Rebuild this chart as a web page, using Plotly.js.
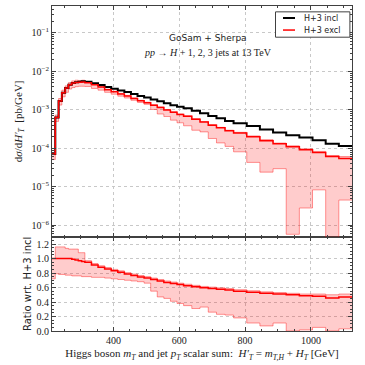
<!DOCTYPE html>
<html>
<head>
<meta charset="utf-8">
<script src="https://cdn.plot.ly/plotly-3.0.1.min.js"></script>
<style>
  html, body { margin: 0; padding: 0; background: #fff; }
  #plot { width: 365px; height: 365px; }
</style>
</head>
<body>
<div id="plot"></div>
<script>
// bin edges in H'_T [GeV]
let binEdges = [213, 223, 233, 243, 253, 263, 273, 283, 293, 303, 313,
                333, 353, 373, 393, 413, 433, 453, 473, 493, 513, 533, 553, 573, 593, 613,
                638, 663, 688, 713, 739, 765,
                805, 845, 885, 925, 965, 1005, 1045, 1085, 1125];

// dsigma/dH'_T [pb/GeV], H+3 inclusive
let incl = [7.1e-5, 6.3e-4, 1.7e-3, 2.8e-3, 3.7e-3, 4.5e-3, 5.0e-3, 5.25e-3, 5.4e-3, 5.5e-3,
            5.4e-3, 4.9e-3, 4.4e-3, 3.9e-3, 3.55e-3, 3.2e-3, 2.9e-3, 2.57e-3, 2.3e-3, 2.1e-3,
            1.86e-3, 1.66e-3, 1.48e-3, 1.32e-3, 1.2e-3,
            1.1e-3, 9.5e-4, 8.1e-4, 6.9e-4, 6.0e-4, 5.1e-4,
            4.5e-4, 3.8e-4, 3.1e-4, 2.57e-4, 2.2e-4, 1.9e-4, 1.62e-4, 1.32e-4, 1.15e-4];

// H+3 exclusive, central value and its band
let excl = [7.1e-5, 6.3e-4, 1.7e-3, 2.8e-3, 3.7e-3, 4.5e-3, 4.95e-3, 5.15e-3, 5.25e-3, 5.3e-3,
            5.1e-3, 4.5e-3, 3.9e-3, 3.35e-3, 2.95e-3, 2.6e-3, 2.3e-3, 1.98e-3, 1.72e-3, 1.53e-3,
            1.32e-3, 1.15e-3, 9.9e-4, 8.6e-4, 7.6e-4,
            6.8e-4, 5.7e-4, 4.8e-4, 4.0e-4, 3.4e-4, 2.86e-4,
            2.5e-4, 2.0e-4, 1.58e-4, 1.31e-4, 1.1e-4, 9.1e-5, 7.8e-5, 6.1e-5, 5.4e-5];
let exclLow = [5.1e-5, 5.0e-4, 1.33e-3, 2.18e-3, 2.85e-3, 3.47e-3, 3.8e-3, 4.0e-3, 4.1e-3, 4.1e-3,
               4.05e-3, 3.6e-3, 3.25e-3, 2.85e-3, 2.55e-3, 2.27e-3, 2.03e-3, 1.77e-3, 1.56e-3, 1.39e-3,
               1.02e-3, 7.8e-4, 6.7e-4, 5.4e-4, 4.6e-4,
               3.85e-4, 2.95e-4, 2.67e-4, 1.8e-4, 1.38e-4, 1.12e-4,
               8.1e-5, 4.3e-5, 2.4e-5, 2.95e-5, 5.8e-7, 2.8e-6, 8.3e-6, 1e-7, 4.5e-6];
let exclHigh = [7.1e-5, 7.3e-4, 1.97e-3, 3.25e-3, 4.2e-3, 5.1e-3, 5.65e-3, 5.9e-3, 5.8e-3, 5.9e-3,
                5.25e-3, 4.6e-3, 4.0e-3, 3.45e-3, 3.05e-3, 2.68e-3, 2.37e-3, 2.04e-3, 1.77e-3, 1.58e-3,
                1.36e-3, 1.19e-3, 1.02e-3, 8.9e-4, 7.8e-4,
                7.0e-4, 5.9e-4, 4.95e-4, 4.15e-4, 3.5e-4, 2.95e-4,
                2.6e-4, 2.1e-4, 1.68e-4, 1.37e-4, 1.16e-4, 9.7e-5, 8.3e-5, 6.5e-5, 6.1e-5];

// ratio panel: excl / incl
let ratio = [1.0, 1.0, 1.0, 1.0, 1.0, 1.0, 0.99, 0.98, 0.97, 0.96,
             0.95, 0.91, 0.88, 0.855, 0.83, 0.81, 0.785, 0.765, 0.745, 0.73,
             0.71, 0.69, 0.67, 0.655, 0.64,
             0.625, 0.61, 0.595, 0.585, 0.575, 0.565,
             0.55, 0.535, 0.52, 0.51, 0.50, 0.485, 0.48, 0.455, 0.47];
let ratioLow = [0.72, 0.79, 0.78, 0.78, 0.77, 0.77, 0.76, 0.76, 0.76, 0.75,
                0.75, 0.74, 0.74, 0.73, 0.72, 0.71, 0.70, 0.69, 0.68, 0.66,
                0.55, 0.47, 0.45, 0.41, 0.38,
                0.35, 0.31, 0.33, 0.26, 0.23, 0.22,
                0.18, 0.11, 0.07, 0.11, 0.0, 0.015, 0.05, 0.0, 0.03];
let ratioHigh = [1.0, 1.16, 1.16, 1.16, 1.14, 1.13, 1.13, 1.13, 1.08, 1.08,
                 0.97, 0.93, 0.90, 0.875, 0.85, 0.83, 0.805, 0.785, 0.765, 0.75,
                 0.73, 0.71, 0.69, 0.675, 0.66,
                 0.645, 0.63, 0.615, 0.605, 0.595, 0.585,
                 0.57, 0.555, 0.54, 0.53, 0.52, 0.51, 0.51, 0.5, 0.51];

let legendNames = ["H+3 incl", "H+3 excl"];
let legendColors = ["black", "red"];

// turn bin values into a step line over the edges
function steps(vals) {
    return { x: binEdges, y: vals.concat([vals[vals.length - 1]]) };
}

const serif = "Liberation Serif, DejaVu Serif, serif";
const sans = "DejaVu Sans, sans-serif";
const bandFill = "rgba(255,0,0,0.2)";
const bandLine = "rgba(255,0,0,0.4)";

function stepTrace(vals, xa, ya, opts) {
    let s = steps(vals);
    return Object.assign({
        x: s.x, y: s.y, xaxis: xa, yaxis: ya,
        type: "scatter", mode: "lines",
        hoverinfo: "skip", showlegend: false
    }, opts);
}

let data = [
    // top panel
    stepTrace(exclLow, "x2", "y2", { line: { shape: "hv", color: bandLine, width: 1 } }),
    stepTrace(exclHigh, "x2", "y2", { line: { shape: "hv", color: bandLine, width: 1 },
        fill: "tonexty", fillcolor: bandFill }),
    stepTrace(incl, "x2", "y2", { line: { shape: "hv", color: legendColors[0], width: 2 }, name: legendNames[0] }),
    stepTrace(excl, "x2", "y2", { line: { shape: "hv", color: legendColors[1], width: 1.5 }, name: legendNames[1] }),
    // ratio panel
    stepTrace(ratioLow, "x", "y", { line: { shape: "hv", color: bandLine, width: 1 } }),
    stepTrace(ratioHigh, "x", "y", { line: { shape: "hv", color: bandLine, width: 1 },
        fill: "tonexty", fillcolor: bandFill }),
    stepTrace(ratio, "x", "y", { line: { shape: "hv", color: "red", width: 1.5 } })
];

const axisBase = {
    showline: true, linecolor: "#404040", linewidth: 1, mirror: "allticks",
    ticks: "inside", ticklen: 4, tickcolor: "#404040",
    showgrid: true, gridcolor: "#c8c8c8", griddash: "dot", gridwidth: 1,
    zeroline: false,
    tickfont: { family: serif, size: 10, color: "#222" }
};

let decades = [1e-6, 1e-5, 1e-4, 1e-3, 1e-2, 1e-1];
let decadeText = ["10<sup>−6</sup>", "10<sup>−5</sup>", "10<sup>−4</sup>",
                  "10<sup>−3</sup>", "10<sup>−2</sup>", "10<sup>−1</sup>"];

// legend box drawn by hand, matplotlib style (short line samples)
let legendShapes = [
    { type: "rect", xref: "paper", yref: "paper", x0: 0.745, x1: 0.993, y0: 0.904, y1: 0.982,
      line: { color: "#404040", width: 1 }, fillcolor: "white", layer: "above" }
];
let legendNotes = [];
legendNames.forEach(function (name, i) {
    let yy = 0.963 - i * 0.037;
    legendShapes.push({ type: "line", xref: "paper", yref: "paper", x0: 0.77, x1: 0.81, y0: yy, y1: yy,
        line: { color: legendColors[i], width: i === 0 ? 2 : 1.5 }, layer: "above" });
    legendNotes.push({ xref: "paper", yref: "paper", x: 0.832, y: yy, xanchor: "left", yanchor: "middle",
        showarrow: false, text: name, font: { family: sans, size: 8, color: "#222" } });
});

let layout = {
    width: 365, height: 365,
    margin: { l: 52, r: 13, t: 6, b: 34 },
    paper_bgcolor: "white", plot_bgcolor: "white",
    showlegend: false,
    xaxis: Object.assign({}, axisBase, {
        domain: [0, 1], anchor: "y", range: [213, 1125],
        tick0: 0, dtick: 200,
        minor: { dtick: 50, ticks: "inside", ticklen: 2, tickcolor: "#404040", showgrid: false },
        title: { text: "Higgs boson <i>m<sub>T</sub></i> and jet <i>p<sub>T</sub></i> scalar sum:  <i>H′<sub>T</sub></i> = <i>m<sub>T,H</sub></i> + <i>H<sub>T</sub></i> [GeV]",
                 font: { family: serif, size: 11, color: "#222" }, standoff: 4 }
    }),
    xaxis2: Object.assign({}, axisBase, {
        domain: [0, 1], anchor: "y2", matches: "x", range: [213, 1125],
        tick0: 0, dtick: 200, showticklabels: false,
        minor: { dtick: 50, ticks: "inside", ticklen: 2, tickcolor: "#404040", showgrid: false }
    }),
    yaxis: Object.assign({}, axisBase, {
        domain: [0, 0.29], anchor: "x", range: [0, 1.3],
        tick0: 0, dtick: 0.2, tickformat: ".1f",
        minor: { dtick: 0.05, ticks: "inside", ticklen: 2, tickcolor: "#404040", showgrid: false },
        title: { text: "Ratio wrt. H+3 incl", font: { family: sans, size: 10, color: "#222" }, standoff: 3 }
    }),
    yaxis2: Object.assign({}, axisBase, {
        domain: [0.29, 1], anchor: "x2", type: "log", range: [-6.3, -0.3],
        tickvals: decades, ticktext: decadeText,
        minor: { dtick: "D1", ticks: "inside", ticklen: 2, tickcolor: "#404040", showgrid: false },
        title: { text: "d<i>σ</i>/d<i>H′<sub>T</sub></i>  [pb/GeV]", font: { family: serif, size: 11, color: "#222" }, standoff: 6 }
    }),
    shapes: legendShapes,
    annotations: [
        { xref: "paper", yref: "paper", x: 0.52, y: 0.922, showarrow: false,
          text: "GoSam + Sherpa", font: { family: sans, size: 9, color: "#222" } },
        { xref: "paper", yref: "paper", x: 0.52, y: 0.881, showarrow: false,
          text: "<i>pp</i> → <i>H</i> + 1, 2, 3 jets at 13 TeV", font: { family: serif, size: 10, color: "#222" } }
    ].concat(legendNotes)
};

Plotly.newPlot("plot", data, layout, { displayModeBar: false, staticPlot: true });
</script>
</body>
</html>
